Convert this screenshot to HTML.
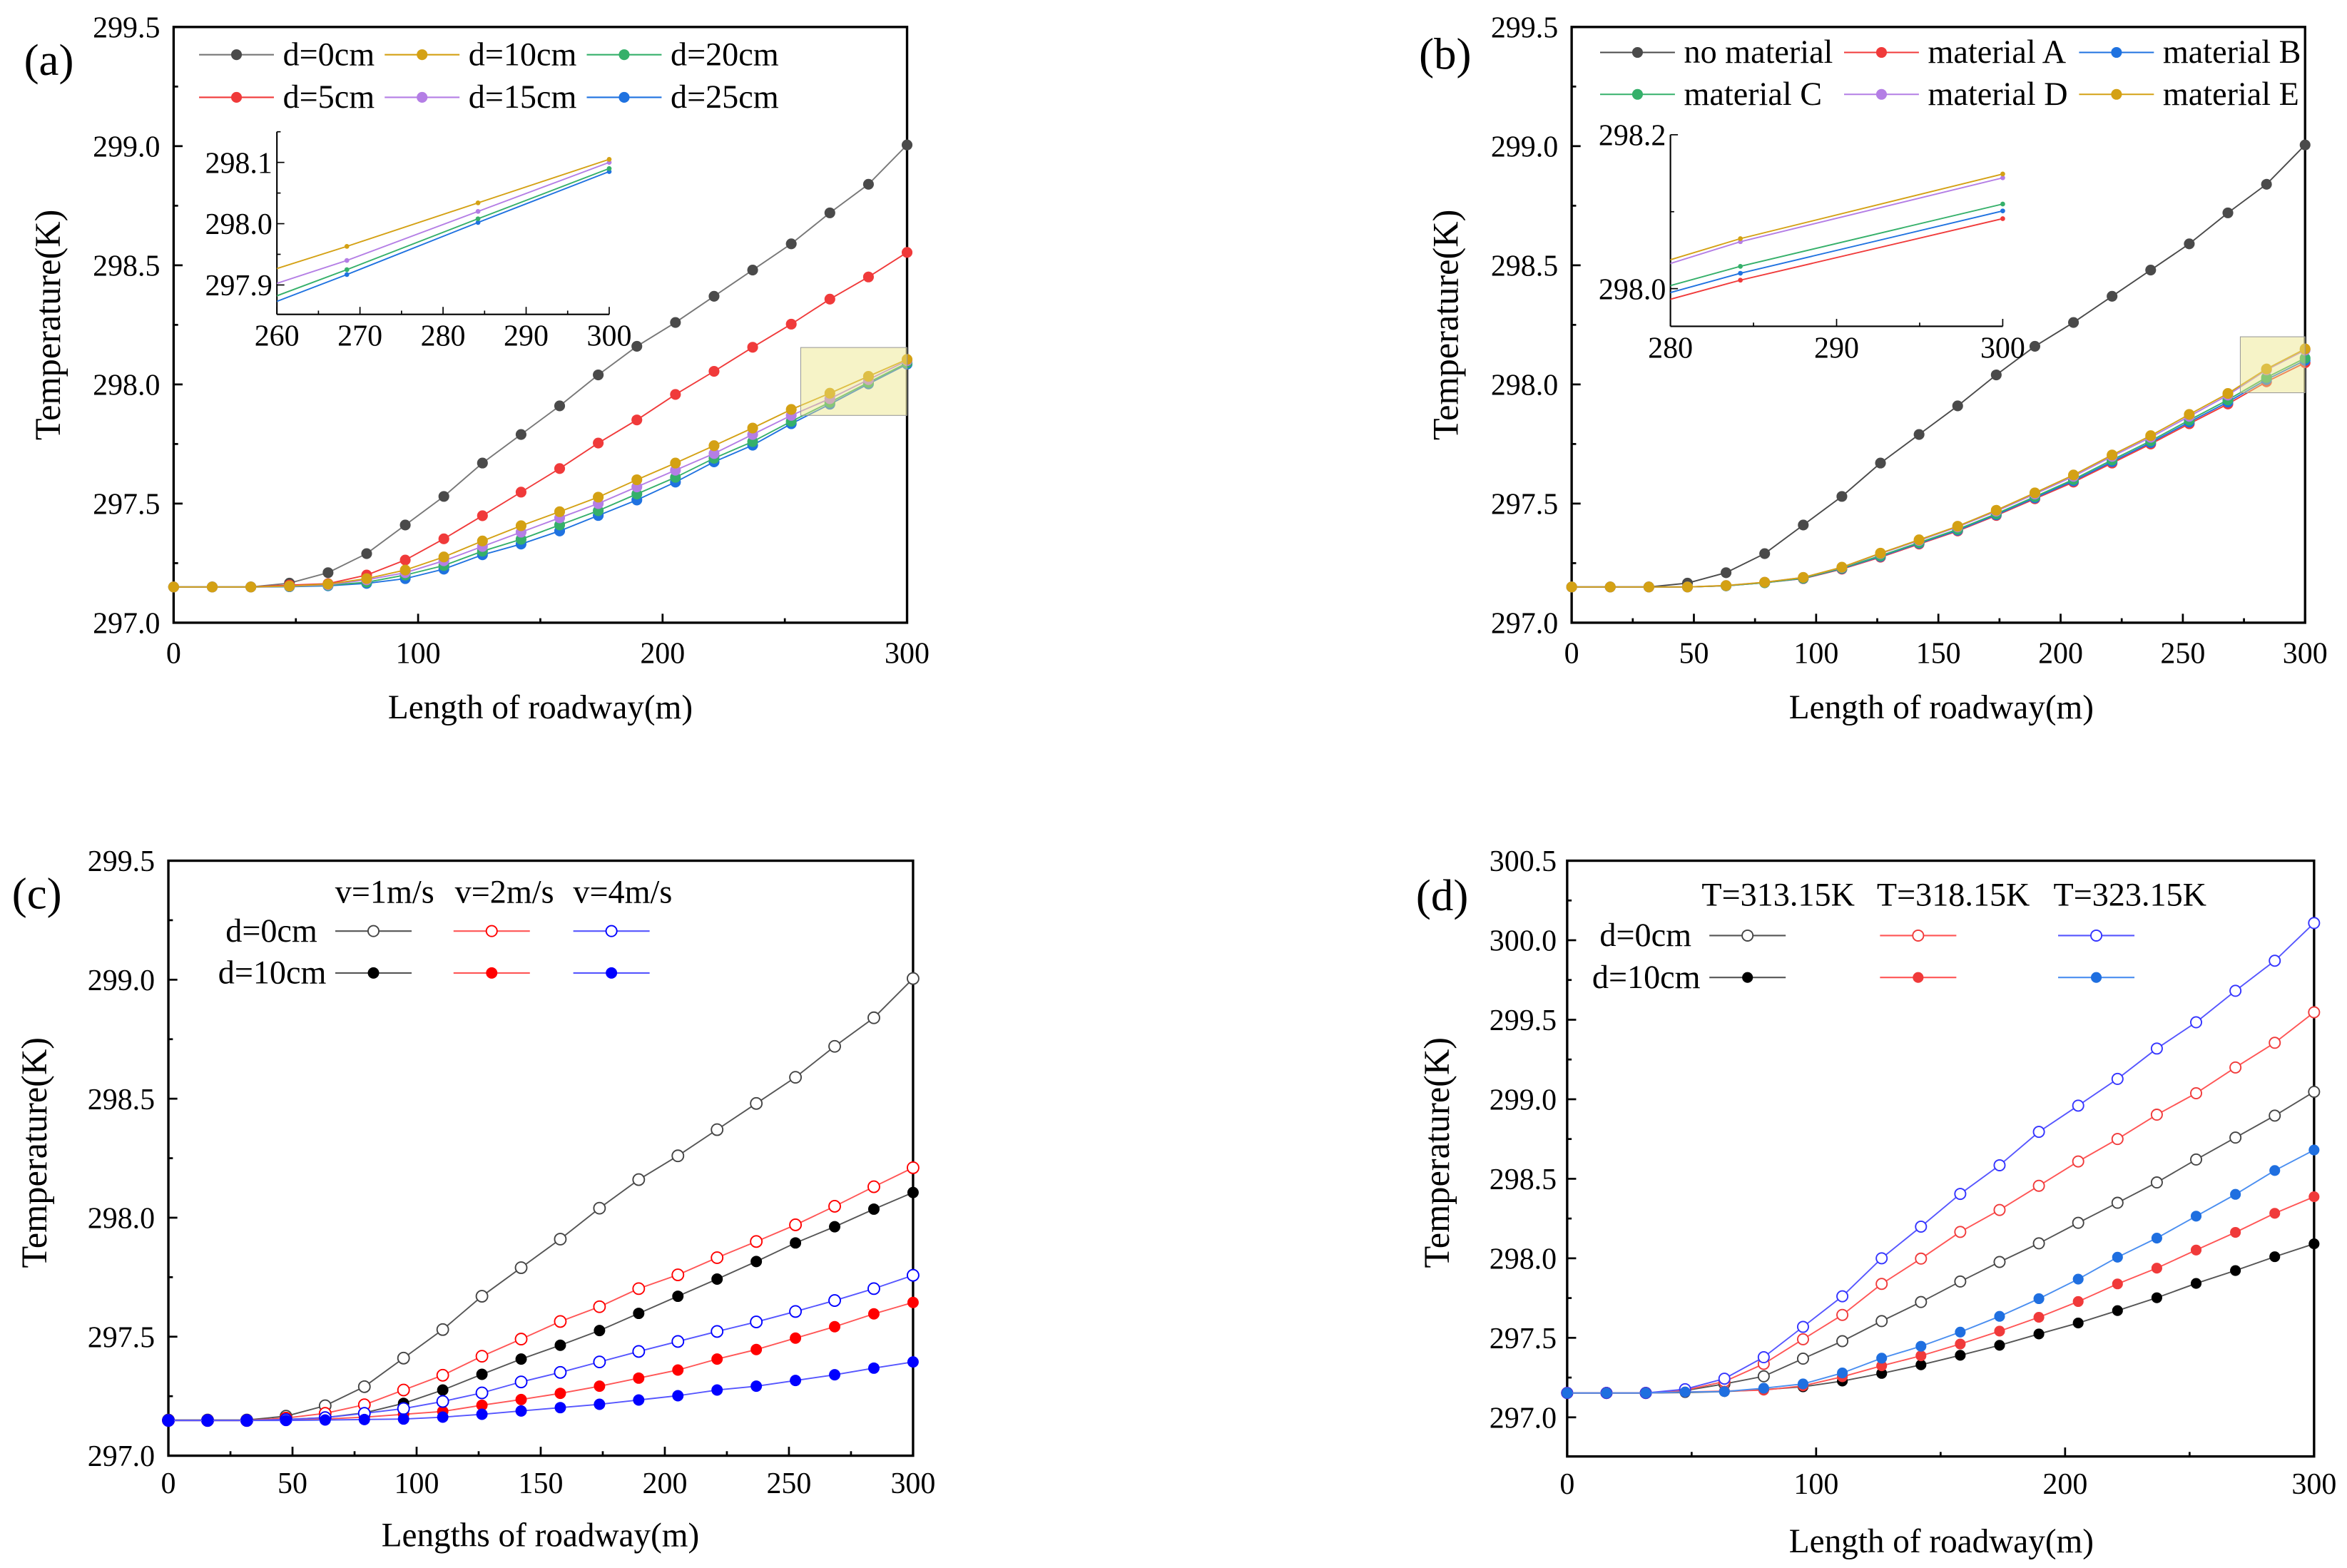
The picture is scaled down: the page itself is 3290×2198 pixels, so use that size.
<!DOCTYPE html>
<html><head><meta charset="utf-8">
<style>
html,body{margin:0;padding:0;background:#fff;}
svg{display:block;}
svg text{font-family:"Liberation Serif","Times New Roman",serif;}
</style></head>
<body>
<svg id="fig" xmlns="http://www.w3.org/2000/svg" width="3290" height="2198" viewBox="0 0 1568 1047.5" font-family="Liberation Serif, serif">
<rect x="0" y="0" width="1568" height="1047.5" fill="#fff"/>
</svg>
<script>
// ---------- data ----------
const xs = [0,15.79,31.58,47.37,63.16,78.95,94.74,110.53,126.32,142.11,157.89,173.68,189.47,205.26,221.05,236.84,252.63,268.42,284.21,300];
// panel a
const aD0  = [297.15,297.15,297.15,297.166,297.21,297.29,297.41,297.53,297.67,297.79,297.91,298.04,298.16,298.26,298.37,298.48,298.59,298.72,298.84,299.005];
const aD5  = [297.15,297.15,297.15,297.158,297.164,297.20,297.263,297.352,297.449,297.548,297.647,297.754,297.851,297.958,298.055,298.156,298.253,298.358,298.451,298.554];
const aD10 = [297.15,297.15,297.15,297.154,297.162,297.185,297.221,297.276,297.343,297.407,297.466,297.527,297.60,297.67,297.743,297.817,297.895,297.963,298.034,298.105];
const aD15 = [297.15,297.15,297.15,297.153,297.159,297.18,297.21,297.26,297.32,297.38,297.44,297.50,297.57,297.64,297.71,297.79,297.87,297.94,298.02,298.10];
const aD20 = [297.15,297.15,297.15,297.152,297.157,297.17,297.20,297.24,297.30,297.35,297.41,297.47,297.54,297.61,297.69,297.76,297.845,297.925,298.008,298.09];
const aD25 = [297.15,297.15,297.15,297.151,297.155,297.165,297.185,297.225,297.285,297.33,297.385,297.45,297.515,297.59,297.675,297.745,297.835,297.917,298.002,298.085];
// panel b
const bNo = aD0;
const bA = [297.15,297.15,297.15,297.15,297.155,297.168,297.185,297.225,297.275,297.33,297.385,297.45,297.52,297.59,297.67,297.75,297.835,297.918,298.011,298.091];
const bB = [297.15,297.15,297.15,297.15,297.155,297.168,297.186,297.227,297.278,297.333,297.388,297.453,297.524,297.595,297.676,297.756,297.842,297.926,298.02,298.101];
const bC = [297.15,297.15,297.15,297.15,297.155,297.168,297.187,297.229,297.281,297.336,297.392,297.457,297.529,297.601,297.683,297.763,297.85,297.935,298.029,298.11];
const bD = [297.15,297.15,297.15,297.15,297.156,297.17,297.19,297.232,297.29,297.345,297.402,297.468,297.54,297.614,297.698,297.778,297.866,297.955,298.061,298.144];
const bE = [297.15,297.15,297.15,297.15,297.156,297.17,297.19,297.233,297.292,297.348,297.405,297.472,297.545,297.62,297.704,297.785,297.874,297.962,298.065,298.149];
// panel c
const cV1D0  = aD0;
const cV2D0  = [297.148,297.148,297.148,297.158,297.178,297.214,297.276,297.338,297.418,297.49,297.564,297.626,297.702,297.76,297.832,297.90,297.97,298.048,298.13,298.21];
const cV4D0  = [297.148,297.148,297.148,297.152,297.16,297.178,297.198,297.228,297.264,297.31,297.35,297.394,297.438,297.48,297.522,297.562,297.606,297.652,297.702,297.758];
const cV1D10 = [297.148,297.148,297.148,297.152,297.16,297.18,297.22,297.276,297.342,297.406,297.464,297.526,297.598,297.67,297.742,297.816,297.894,297.962,298.036,298.106];
const cV2D10 = [297.148,297.148,297.148,297.15,297.154,297.162,297.174,297.186,297.212,297.236,297.262,297.292,297.326,297.36,297.406,297.446,297.494,297.542,297.596,297.644];
const cV4D10 = [297.148,297.148,297.148,297.148,297.15,297.152,297.154,297.162,297.174,297.188,297.202,297.216,297.234,297.252,297.276,297.292,297.316,297.34,297.368,297.394];
// panel d
const dT1D0  = [297.153,297.153,297.153,297.168,297.21,297.258,297.369,297.479,297.605,297.725,297.854,297.977,298.094,298.223,298.349,298.477,298.621,298.759,298.897,299.047];
const dT2D0  = [297.153,297.153,297.153,297.171,297.225,297.336,297.491,297.644,297.839,297.998,298.166,298.304,298.456,298.609,298.75,298.903,299.038,299.2,299.355,299.547];
const dT3D0  = [297.153,297.153,297.153,297.177,297.243,297.378,297.569,297.761,298.0,298.199,298.405,298.585,298.795,298.96,299.128,299.319,299.484,299.682,299.871,300.108];
const dT1D10 = [297.153,297.153,297.153,297.156,297.162,297.174,297.192,297.228,297.276,297.33,297.39,297.453,297.524,297.593,297.671,297.752,297.842,297.923,298.01,298.091];
const dT2D10 = [297.153,297.153,297.153,297.159,297.165,297.171,297.198,297.255,297.324,297.387,297.461,297.542,297.629,297.728,297.839,297.938,298.052,298.163,298.283,298.387];
const dT3D10 = [297.153,297.153,297.153,297.159,297.162,297.183,297.21,297.279,297.372,297.447,297.536,297.635,297.746,297.869,298.007,298.127,298.265,298.402,298.552,298.681];
// tick labels
const yTicksABC = [297.0,297.5,298.0,298.5,299.0,299.5];
const yTicksD = [297.0,297.5,298.0,298.5,299.0,299.5,300.0,300.5];
const xTicks100 = [0,100,200,300];
const xTicks50 = [0,50,100,150,200,250,300];
const insetAX = [260,270,280,290,300];
const insetAY = [297.9,298.0,298.1];
const insetBX = [280,290,300];
const insetBY = [298.0,298.2];

// ---------- helpers ----------
const NS = "http://www.w3.org/2000/svg";
const svg = document.getElementById('fig');
const FONT = '"Liberation Serif", "Times New Roman", serif';
function mk(tag, attrs, name, inter, parent){
  const e = document.createElementNS(NS, tag);
  for (const k in attrs) e.setAttribute(k, attrs[k]);
  
  
  (parent || svg).appendChild(e);
  return e;
}
function txt(s, x, y, size, anchor, name, parent, extra){
  const a = Object.assign({x:x, y:y, 'font-size':size, 'text-anchor':anchor||'start', fill:'#000', 'font-family':FONT}, extra||{});
  const t = mk('text', a, name, false, parent);
  t.style.fontFamily = FONT;
  t.textContent = s;
  return t;
}
let clipId = 0;
function panel(c){
  const g = mk('g', {}, c.name, false);
  const X = v => c.x0 + (v - c.xmin) / (c.xmax - c.xmin) * c.w;
  const Y = v => c.y0 + c.h - (v - c.ymin) / (c.ymax - c.ymin) * c.h;
  const bot = c.y0 + c.h;
  const ax = mk('g', {}, c.name + '-axes', false, g);
  if (c.frame) {
    mk('rect', {x:c.x0, y:c.y0, width:c.w, height:c.h, fill:'none', stroke:'#000', 'stroke-width':1.6}, c.name + '-frame', false, ax);
  } else {
    mk('line', {x1:c.x0, y1:c.y0, x2:c.x0, y2:bot, stroke:'#000', 'stroke-width':1}, c.name + '-y-axis', false, ax);
    mk('line', {x1:c.x0, y1:bot, x2:c.x0 + c.w, y2:bot, stroke:'#000', 'stroke-width':1}, c.name + '-x-axis', false, ax);
  }
  const tl = c.tick || 6;
  for (let v = c.xmin; v <= c.xmax + 1e-9; v += c.xminor) {
    const major = Math.abs(((v - c.xmin) / c.xmajor) - Math.round((v - c.xmin) / c.xmajor)) < 1e-6;
    mk('line', {x1:X(v), y1:bot, x2:X(v), y2:bot - (major ? tl : tl/2), stroke:'#000', 'stroke-width':c.frame?1.3:0.8}, c.name + '-x-tick', false, ax);
  }
  for (let v = c.ymin + c.yoff; v <= c.ymax + 1e-9; v += c.yminor) {
    const major = Math.abs(((v - c.ymin - c.yoff) / c.ymajor) - Math.round((v - c.ymin - c.yoff) / c.ymajor)) < 1e-6;
    mk('line', {x1:c.x0, y1:Y(v), x2:c.x0 + (major ? tl : tl/2), y2:Y(v), stroke:'#000', 'stroke-width':c.frame?1.3:0.8}, c.name + '-y-tick', false, ax);
  }
  c.xlabels.forEach(v => txt(String(v), X(v), bot + c.xlOff, c.fs, 'middle', c.name + '-x-tick-label', ax));
  c.ylabels.forEach(v => txt(v.toFixed(1), c.x0 - c.ylOff, Y(v) + c.fs*0.35, c.fs, 'end', c.name + '-y-tick-label', ax));
  const id = 'clip' + (clipId++);
  const cp = mk('clipPath', {id:id}, c.name + '-clip', false, g);
  mk('rect', {x:c.x0, y:c.y0 - 6, width:c.w + 6, height:c.h + 6}, c.name + '-clip-rect', false, cp);
  const data = mk('g', c.clipLines ? {'clip-path':'url(#' + id + ')'} : {}, c.name + '-series', false, g);
  c.series.forEach(s => {
    const sg = mk('g', {}, s.name, false, data);
    const pts = xs.map((x, i) => X(x).toFixed(2) + ',' + Y(s.vals[i]).toFixed(2)).join(' ');
    mk('polyline', {points:pts, fill:'none', stroke:s.line, 'stroke-width':c.lw || 0.9}, s.name + '-line', false, sg);
    xs.forEach((x, i) => {
      if (x < c.xmin - 1e-6 || x > c.xmax + 1e-6) return;
      mk('circle', {cx:X(x), cy:Y(s.vals[i]), r:c.r, fill:s.open ? '#fff' : s.fill, stroke:s.fill, 'stroke-width':s.open ? 0.9 : 0}, s.name + '-point', false, sg);
    });
  });
  return {X, Y, g};
}
function legendRow(parent, name, x1, x2, y, color, mfill, open, r){
  const g = mk('g', {}, name, false, parent);
  mk('line', {x1:x1, y1:y, x2:x2, y2:y, stroke:color, 'stroke-width':1}, name + '-line', false, g);
  mk('circle', {cx:(x1+x2)/2, cy:y, r:r, fill:open ? '#fff' : mfill, stroke:mfill, 'stroke-width':open ? 0.9 : 0}, name + '-marker', false, g);
  return g;
}

// colours
const GRAY = '#4a4a4a', GRAYL = '#777', RED = '#f03a3a', GOLD = '#d4a114', GREEN = '#35b06a', PURP = '#b47ee5', BLUE = '#1f72e0';

// ---------- panel (a) ----------
const pa = panel({name:'panel-a', x0:116, y0:18, w:490, h:398, xmin:0, xmax:300, ymin:297, ymax:299.5,
  xmajor:100, xminor:50, ymajor:0.5, yminor:0.25, yoff:0, xlabels:xTicks100, ylabels:yTicksABC, fs:20, xlOff:27, ylOff:9, frame:true, r:3.6,
  series:[
    {name:'series-a-d0', vals:aD0, line:GRAYL, fill:GRAY},
    {name:'series-a-d5', vals:aD5, line:RED, fill:RED},
    {name:'series-a-d25', vals:aD25, line:BLUE, fill:BLUE},
    {name:'series-a-d20', vals:aD20, line:GREEN, fill:GREEN},
    {name:'series-a-d15', vals:aD15, line:PURP, fill:PURP},
    {name:'series-a-d10', vals:aD10, line:GOLD, fill:GOLD}
  ]});
mk('rect', {x:pa.X(256.5), y:pa.Y(298.155), width:pa.X(300)-pa.X(256.5), height:pa.Y(297.87)-pa.Y(298.155), fill:'rgba(235,228,130,0.45)', stroke:'#999', 'stroke-width':0.5}, 'panel-a-zoom-region', false, pa.g);
panel({name:'panel-a-inset', x0:185, y0:88, w:222, h:122, xmin:260, xmax:300, ymin:297.852, ymax:298.15,
  xmajor:10, xminor:5, ymajor:0.1, yminor:0.05, yoff:0.048, xlabels:insetAX, ylabels:insetAY, fs:20, xlOff:21, ylOff:3, frame:false, r:1.6, tick:5, lw:0.9, clipLines:true,
  series:[
    {name:'inset-a-d25', vals:aD25, line:BLUE, fill:BLUE},
    {name:'inset-a-d20', vals:aD20, line:GREEN, fill:GREEN},
    {name:'inset-a-d15', vals:aD15, line:PURP, fill:PURP},
    {name:'inset-a-d10', vals:aD10, line:GOLD, fill:GOLD}
  ]});
txt('(a)', 16, 50, 30, 'start', 'panel-a-label');
txt('Length of roadway(m)', 361, 480, 22.5, 'middle', 'panel-a-x-axis-title');
txt('Temperature(K)', 0, 0, 24, 'middle', 'panel-a-y-axis-title', null, {transform:'translate(40,217) rotate(-90)'});
const legA = mk('g', {}, 'panel-a-legend', false);
[['d=0cm',GRAYL,GRAY,133,36.5],['d=10cm',GOLD,GOLD,257,36.5],['d=20cm',GREEN,GREEN,392,36.5],
 ['d=5cm',RED,RED,133,65],['d=15cm',PURP,PURP,257,65],['d=25cm',BLUE,BLUE,392,65]].forEach(e => {
  legendRow(legA, 'legend-entry-' + e[0].replace('=','-'), e[3], e[3]+50, e[4], e[1], e[2], false, 3.6);
  txt(e[0], e[3]+56, e[4]+7, 22, 'start', 'legend-label-' + e[0].replace('=','-'), legA);
});

// ---------- panel (b) ----------
const pb = panel({name:'panel-b', x0:1050, y0:18, w:490, h:398, xmin:0, xmax:300, ymin:297, ymax:299.5,
  xmajor:50, xminor:25, ymajor:0.5, yminor:0.25, yoff:0, xlabels:xTicks50, ylabels:yTicksABC, fs:20, xlOff:27, ylOff:9, frame:true, r:3.6,
  series:[
    {name:'series-b-no-material', vals:bNo, line:GRAY, fill:GRAY},
    {name:'series-b-material-a', vals:bA, line:RED, fill:RED},
    {name:'series-b-material-b', vals:bB, line:BLUE, fill:BLUE},
    {name:'series-b-material-c', vals:bC, line:GREEN, fill:GREEN},
    {name:'series-b-material-d', vals:bD, line:PURP, fill:PURP},
    {name:'series-b-material-e', vals:bE, line:GOLD, fill:GOLD}
  ]});
mk('rect', {x:pb.X(273.5), y:pb.Y(298.2), width:pb.X(300)-pb.X(273.5), height:pb.Y(297.965)-pb.Y(298.2), fill:'rgba(235,228,130,0.45)', stroke:'#999', 'stroke-width':0.5}, 'panel-b-zoom-region', false, pb.g);
panel({name:'panel-b-inset', x0:1116, y0:90, w:222, h:128, xmin:280, xmax:300, ymin:297.951, ymax:298.2,
  xmajor:10, xminor:5, ymajor:0.2, yminor:0.1, yoff:0.049, xlabels:insetBX, ylabels:insetBY, fs:20, xlOff:21, ylOff:3, frame:false, r:1.6, tick:5, clipLines:true,
  series:[
    {name:'inset-b-material-a', vals:bA, line:RED, fill:RED},
    {name:'inset-b-material-b', vals:bB, line:BLUE, fill:BLUE},
    {name:'inset-b-material-c', vals:bC, line:GREEN, fill:GREEN},
    {name:'inset-b-material-d', vals:bD, line:PURP, fill:PURP},
    {name:'inset-b-material-e', vals:bE, line:GOLD, fill:GOLD}
  ]});
txt('(b)', 948, 46, 30, 'start', 'panel-b-label');
txt('Length of roadway(m)', 1297, 480, 22.5, 'middle', 'panel-b-x-axis-title');
txt('Temperature(K)', 0, 0, 24, 'middle', 'panel-b-y-axis-title', null, {transform:'translate(974,217) rotate(-90)'});
const legB = mk('g', {}, 'panel-b-legend', false);
[['no material',GRAY,GRAY,1069,35],['material A',RED,RED,1232,35],['material B',BLUE,BLUE,1389,35],
 ['material C',GREEN,GREEN,1069,63],['material D',PURP,PURP,1232,63],['material E',GOLD,GOLD,1389,63]].forEach(e => {
  legendRow(legB, 'legend-entry-' + e[0].replace(' ','-'), e[3], e[3]+50, e[4], e[1], e[2], false, 3.6);
  txt(e[0], e[3]+56, e[4]+7, 22, 'start', 'legend-label-' + e[0].replace(' ','-'), legB);
});

// ---------- panel (c) ----------
const CBLK = '#000', CRED = '#ff0000', CBLU = '#0000ff';
panel({name:'panel-c', x0:112.5, y0:575, w:497.5, h:397.5, xmin:0, xmax:300, ymin:297, ymax:299.5,
  xmajor:50, xminor:25, ymajor:0.5, yminor:0.25, yoff:0, xlabels:xTicks50, ylabels:yTicksABC, fs:20, xlOff:25, ylOff:9, frame:true, r:3.8,
  series:[
    {name:'series-c-v1-d0', vals:cV1D0, line:'#555', fill:'#444', open:true},
    {name:'series-c-v1-d10', vals:cV1D10, line:'#555', fill:CBLK},
    {name:'series-c-v2-d0', vals:cV2D0, line:'#f55', fill:CRED, open:true},
    {name:'series-c-v2-d10', vals:cV2D10, line:'#f55', fill:CRED},
    {name:'series-c-v4-d0', vals:cV4D0, line:'#55f', fill:CBLU, open:true},
    {name:'series-c-v4-d10', vals:cV4D10, line:'#55f', fill:CBLU}
  ]});
txt('(c)', 8, 607, 30, 'start', 'panel-c-label');
txt('Lengths of roadway(m)', 361, 1033, 22.5, 'middle', 'panel-c-x-axis-title');
txt('Temperature(K)', 0, 0, 24, 'middle', 'panel-c-y-axis-title', null, {transform:'translate(31,770) rotate(-90)'});
const legC = mk('g', {}, 'panel-c-legend', false);
txt('v=1m/s', 257, 603, 22, 'middle', 'legend-header-v1', legC);
txt('v=2m/s', 337, 603, 22, 'middle', 'legend-header-v2', legC);
txt('v=4m/s', 416, 603, 22, 'middle', 'legend-header-v4', legC);
txt('d=0cm', 212, 629, 22, 'end', 'legend-row-d0', legC);
txt('d=10cm', 218, 657, 22, 'end', 'legend-row-d10', legC);
legendRow(legC, 'legend-c-v1-d0', 224, 275, 622, '#555', '#444', true, 3.6);
legendRow(legC, 'legend-c-v2-d0', 303, 354, 622, '#f55', CRED, true, 3.6);
legendRow(legC, 'legend-c-v4-d0', 383, 434, 622, '#55f', CBLU, true, 3.6);
legendRow(legC, 'legend-c-v1-d10', 224, 275, 650, '#555', CBLK, false, 3.8);
legendRow(legC, 'legend-c-v2-d10', 303, 354, 650, '#f55', CRED, false, 3.8);
legendRow(legC, 'legend-c-v4-d10', 383, 434, 650, '#55f', CBLU, false, 3.8);

// ---------- panel (d) ----------
const DRED = '#f03a3a', DBLU = '#1f6fe0', DBLO = '#3333ff';
panel({name:'panel-d', x0:1047, y0:575, w:499, h:398, xmin:0, xmax:300, ymin:296.754, ymax:300.5,
  xmajor:100, xminor:50, ymajor:0.5, yminor:0.25, yoff:0.246, xlabels:xTicks100, ylabels:yTicksD, fs:20, xlOff:25, ylOff:7, frame:true, r:3.6,
  series:[
    {name:'series-d-t313-d0', vals:dT1D0, line:'#555', fill:'#444', open:true},
    {name:'series-d-t318-d0', vals:dT2D0, line:'#f55', fill:DRED, open:true},
    {name:'series-d-t323-d0', vals:dT3D0, line:'#55f', fill:DBLO, open:true},
    {name:'series-d-t313-d10', vals:dT1D10, line:'#555', fill:'#000'},
    {name:'series-d-t318-d10', vals:dT2D10, line:'#f55', fill:DRED},
    {name:'series-d-t323-d10', vals:dT3D10, line:'#4a8ef0', fill:DBLU}
  ]});
txt('(d)', 946, 608, 30, 'start', 'panel-d-label');
txt('Length of roadway(m)', 1297, 1037, 22.5, 'middle', 'panel-d-x-axis-title');
txt('Temperature(K)', 0, 0, 24, 'middle', 'panel-d-y-axis-title', null, {transform:'translate(968,770) rotate(-90)'});
const legD = mk('g', {}, 'panel-d-legend', false);
txt('T=313.15K', 1188, 605, 22, 'middle', 'legend-header-t313', legD);
txt('T=318.15K', 1305, 605, 22, 'middle', 'legend-header-t318', legD);
txt('T=323.15K', 1423, 605, 22, 'middle', 'legend-header-t323', legD);
txt('d=0cm', 1130, 632, 22, 'end', 'legend-row-d0', legD);
txt('d=10cm', 1136, 660, 22, 'end', 'legend-row-d10', legD);
legendRow(legD, 'legend-d-t313-d0', 1142, 1193, 625, '#555', '#444', true, 3.6);
legendRow(legD, 'legend-d-t318-d0', 1256, 1307, 625, '#f55', DRED, true, 3.6);
legendRow(legD, 'legend-d-t323-d0', 1375, 1426, 625, '#55f', DBLO, true, 3.6);
legendRow(legD, 'legend-d-t313-d10', 1142, 1193, 653, '#555', '#000', false, 3.6);
legendRow(legD, 'legend-d-t318-d10', 1256, 1307, 653, '#f55', DRED, false, 3.6);
legendRow(legD, 'legend-d-t323-d10', 1375, 1426, 653, '#4a8ef0', DBLU, false, 3.6);
</script>
</body></html>
